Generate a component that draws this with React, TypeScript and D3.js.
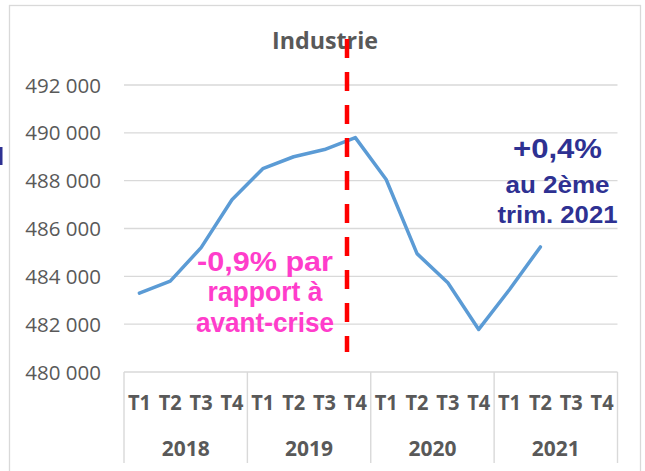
import React from "react";
import * as d3 from "d3";

const quarters = ["T1", "T2", "T3", "T4"];
const years = ["2018", "2019", "2020", "2021"];
const values: (number | null)[] = [
  483300, 483800, 485200, 487200,
  488500, 489000, 489300, 489800,
  488050, 484950, 483730, 481780,
  483450, 485230, null, null,
];
const yTicks = [480000, 482000, 484000, 486000, 488000, 490000, 492000];
const title = "Industrie";
const pinkLines = ["-0,9% par", "rapport à", "avant-crise"];
const blueLines = ["+0,4%", "au 2ème", "trim. 2021"];

const W = 645;
const H = 471;
const plotL = 124;
const plotR = 617.5;
const plotT = 85;
const plotB = 372;

export default function App() {
  const cats = years.flatMap((y) => quarters.map((q) => `${y}-${q}`));
  const x = d3.scaleBand<string>().domain(cats).range([plotL, plotR]).padding(0);
  const y = d3.scaleLinear().domain([480000, 492000]).range([plotB, plotT]);
  const cx = (i: number) => (x(cats[i]) as number) + x.bandwidth() / 2;

  const line = d3
    .line<number | null>()
    .defined((d) => d !== null)
    .x((_, i) => cx(i))
    .y((d) => y(d as number));

  const yearW = x.bandwidth() * 4;
  const fmt = (v: number) => d3.format(",")(v).replace(/,/g, " ");
  const grey = "#595959";
  const grid = "#d9d9d9";
  const sans = "'Open Sans', sans-serif";
  const arial = "'Liberation Sans', Arial, sans-serif";

  const pinkLen = [136, 115, 138];
  const pinkBase = [271, 301, 332];
  const blueLen = [89, 104, 120];
  const blueBase = [158, 192.5, 222.7];
  const blueSize = [28, 24, 24];

  return (
    <svg
      width={W}
      height={H}
      style={{ position: "absolute", left: 0, top: 0, background: "#fff" }}
    >
      <rect x={0} y={147} width={2.5} height={18} fill="#2E3192" />
      <rect x={9.5} y={5.5} width={631} height={500} fill="#fff" stroke={grid} strokeWidth={1.3} />

      {/* title */}
      <text x={325} y={49} textAnchor="middle" fontFamily={sans} fontWeight="bold" fontSize={24} fill={grey} textLength={106} lengthAdjust="spacingAndGlyphs">
        {title}
      </text>

      {/* gridlines */}
      {yTicks.map((t) => (
        <line key={t} x1={plotL} x2={plotR} y1={y(t)} y2={y(t)} stroke={grid} strokeWidth={1.4} />
      ))}
      {/* y labels */}
      {yTicks.map((t) => (
        <text key={"l" + t} x={101} y={y(t) + 7.5} textAnchor="end" fontFamily={sans} fontSize={20.5} fill={grey}>
          {fmt(t)}
        </text>
      ))}

      {/* category axis year separators */}
      {d3.range(years.length + 1).map((k) => (
        <line
          key={"s" + k}
          x1={plotL + k * yearW}
          x2={plotL + k * yearW}
          y1={plotB}
          y2={463}
          stroke={grid}
          strokeWidth={1.4}
        />
      ))}
      {cats.map((c, i) => (
        <text key={c} x={cx(i)} y={410} textAnchor="middle" fontFamily={sans} fontWeight="bold" fontSize={20.5} fill={grey} textLength={23} lengthAdjust="spacingAndGlyphs">
          {quarters[i % 4]}
        </text>
      ))}
      {years.map((yr, k) => (
        <text key={yr} x={plotL + k * yearW + yearW / 2} y={456} textAnchor="middle" fontFamily={sans} fontWeight="bold" fontSize={21.5} fill={grey} textLength={48} lengthAdjust="spacingAndGlyphs">
          {yr}
        </text>
      ))}

      {/* series */}
      <path d={line(values) || ""} fill="none" stroke="#5B9BD5" strokeWidth={3.5} strokeLinejoin="round" strokeLinecap="round" />

      {/* annotations */}
      {pinkLines.map((t, i) => (
        <text
          key={t}
          x={265}
          y={pinkBase[i]}
          textAnchor="middle"
          fontFamily={arial}
          fontWeight="bold"
          fontSize={28}
          fill="#FF3DCB"
          textLength={pinkLen[i]}
          lengthAdjust="spacingAndGlyphs"
        >
          {t}
        </text>
      ))}
      {blueLines.map((t, i) => (
        <text
          key={t}
          x={557.5}
          y={blueBase[i]}
          textAnchor="middle"
          fontFamily={arial}
          fontWeight="bold"
          fontSize={blueSize[i]}
          fill="#2E3192"
          textLength={blueLen[i]}
          lengthAdjust="spacingAndGlyphs"
        >
          {t}
        </text>
      ))}

      {/* crisis marker */}
      <line x1={347} x2={347} y1={39} y2={352} stroke="#FF0000" strokeWidth={4.5} strokeDasharray="19 14" />
    </svg>
  );
}
